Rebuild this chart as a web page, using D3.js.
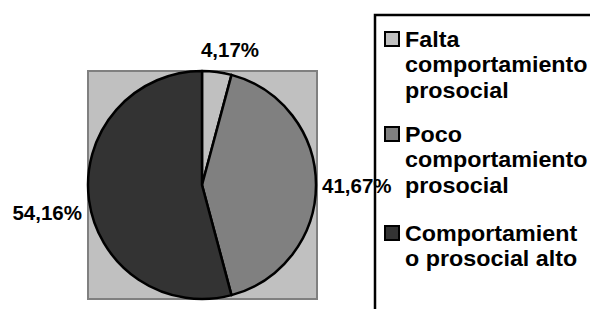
<!DOCTYPE html>
<html>
<head>
<meta charset="utf-8">
<script src="https://cdn.jsdelivr.net/npm/d3@7"></script>
<style>
  html, body { margin: 0; padding: 0; background: #fff; }
  svg { display: block; }
  text { font-family: "Liberation Sans", Arial, sans-serif; font-weight: bold; fill: #000; }
</style>
</head>
<body>
<div id="chart"></div>
<script>
const categories = [
  ["Falta", "comportamiento", "prosocial"],
  ["Poco", "comportamiento", "prosocial"],
  ["Comportamient", "o prosocial alto"]
];
const values = [4.17, 41.67, 54.16];
const valueLabels = ["4,17%", "41,67%", "54,16%"];
const colors = ["#c0c0c0", "#808080", "#333333"];

const W = 590, H = 309;
const svg = d3.select("#chart").append("svg").attr("width", W).attr("height", H);

// plot area
svg.append("rect")
  .attr("x", 88).attr("y", 71).attr("width", 229).attr("height", 228)
  .attr("fill", "#c0c0c0").attr("stroke", "#808080").attr("stroke-width", 2);

const cx = 202, cy = 185, r = 114;
const pie = d3.pie().sort(null).value(d => d)(values);
const arc = d3.arc().innerRadius(0).outerRadius(r);

const g = svg.append("g").attr("transform", `translate(${cx},${cy})`);
g.selectAll("path").data(pie).join("path")
  .attr("d", arc)
  .attr("fill", (d, i) => colors[i])
  .attr("stroke", "#000").attr("stroke-width", 2.5).attr("stroke-linejoin", "round");

// value labels
const labelPos = [[230, 57, "middle"], [322, 193, "start"], [82, 220, "end"]];
svg.selectAll("text.val").data(valueLabels).join("text")
  .attr("class", "val")
  .attr("x", (d, i) => labelPos[i][0])
  .attr("y", (d, i) => labelPos[i][1])
  .attr("text-anchor", (d, i) => labelPos[i][2])
  .attr("font-size", 20.5)
  .text(d => d);

// legend box
svg.append("path")
  .attr("d", "M375,312 L375,15 L595,15")
  .attr("fill", "none").attr("stroke", "#000").attr("stroke-width", 2.5);

const groupY = [47, 142, 241];
const lineH = 25.5;
const lg = svg.selectAll("g.leg").data(categories).join("g")
  .attr("class", "leg")
  .attr("transform", (d, i) => `translate(0,${groupY[i]})`);
lg.append("rect")
  .attr("x", 385).attr("y", -15).attr("width", 14).attr("height", 14)
  .attr("fill", (d, i) => colors[i])
  .attr("stroke", "#000").attr("stroke-width", 2);
lg.each(function(lines) {
  const t = d3.select(this).append("text")
    .attr("font-size", 22)
    .attr("transform", "translate(405,0) scale(1.06,1)");
  lines.forEach((ln, j) => {
    t.append("tspan").attr("x", 0).attr("y", j * lineH).text(ln);
  });
});
</script>
</body>
</html>
